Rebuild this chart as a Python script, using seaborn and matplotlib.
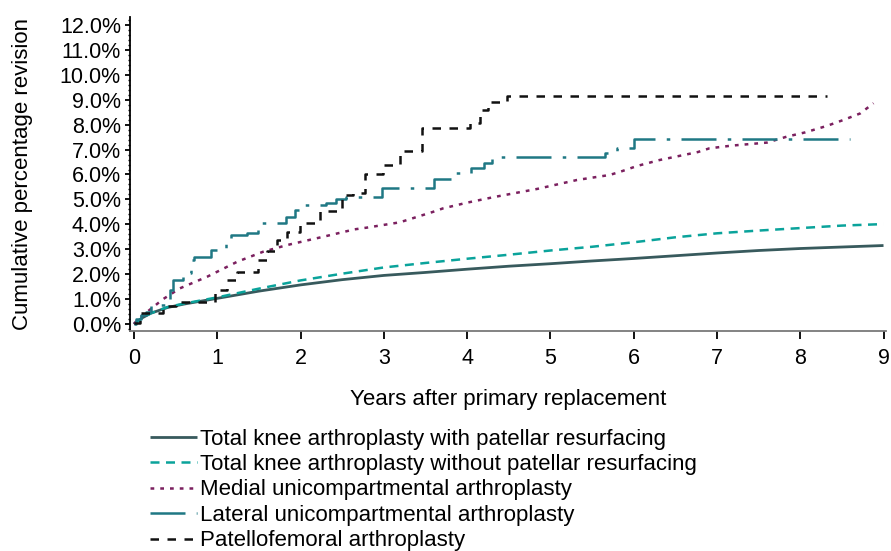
import numpy as np
import pandas as pd
import matplotlib
matplotlib.use("Agg")
import matplotlib.pyplot as plt
from matplotlib.ticker import MultipleLocator, FuncFormatter
import seaborn as sns

# Cumulative percentage revision by years after primary replacement

tka_with_t = [0, 0.1, 0.2, 0.4, 0.6, 1.0, 1.5, 2.0, 2.5, 3.0, 3.5, 4.0, 4.5,
              5.0, 5.5, 6.0, 6.5, 7.0, 7.5, 8.0, 8.5, 9.0]
tka_with_v = [0, 0.25, 0.43, 0.66, 0.8, 1.03, 1.32, 1.57, 1.78, 1.95, 2.07,
              2.2, 2.32, 2.42, 2.53, 2.63, 2.74, 2.85, 2.95, 3.03, 3.09, 3.15]

tka_without_t = [0, 0.1, 0.2, 0.4, 0.6, 1.0, 1.5, 2.0, 2.5, 3.0, 3.5, 4.0, 4.5,
                 5.0, 5.5, 6.0, 6.5, 7.0, 7.5, 8.0, 8.5, 9.0]
tka_without_v = [0, 0.25, 0.43, 0.68, 0.82, 1.07, 1.42, 1.75, 2.02, 2.27, 2.45,
                 2.62, 2.78, 2.95, 3.1, 3.28, 3.48, 3.64, 3.75, 3.85, 3.95, 4.01]

medial_t = [0, 0.05, 0.2, 0.35, 0.55, 0.88, 1.24, 1.55, 1.84, 2.27, 2.65, 2.8,
            3.19, 3.59, 3.71, 4.0, 4.33, 4.84, 5.32, 5.71, 5.83, 6.04, 6.31,
            6.77, 6.91, 7.18, 7.6, 7.84, 8.06, 8.32, 8.52, 8.72, 8.88]
medial_v = [0, 0.2, 0.6, 1.0, 1.43, 1.9, 2.5, 2.9, 3.17, 3.5, 3.8, 3.87,
            4.08, 4.5, 4.64, 4.87, 5.1, 5.42, 5.78, 5.98, 6.1, 6.34, 6.58,
            6.9, 7.05, 7.16, 7.28, 7.52, 7.69, 7.95, 8.19, 8.45, 8.86]

lateral_t = [0, 0.03, 0.08, 0.14, 0.2, 0.43, 0.47, 0.59, 0.69, 0.72, 0.93, 1.1,
             1.17, 1.36, 1.49, 1.82, 1.93, 2.04, 2.3, 2.42, 2.55, 2.98, 3.6,
             3.85, 4.05, 4.2, 4.3, 5.65, 5.8, 6.0, 8.6]
lateral_v = [0, 0.2, 0.36, 0.5, 0.76, 1.36, 1.77, 2.05, 2.57, 2.7, 2.97, 3.3,
             3.57, 3.64, 4.04, 4.3, 4.57, 4.78, 4.84, 5.0, 5.1, 5.44, 5.82,
             6.05, 6.25, 6.45, 6.72, 6.85, 7.05, 7.41, 7.41]

patello_t = [0, 0.07, 0.35, 0.5, 0.97, 1.12, 1.24, 1.49, 1.6, 1.72, 1.84, 1.99,
             2.23, 2.5, 2.63, 2.77, 2.99, 3.2, 3.46, 4.03, 4.15, 4.25, 4.48, 8.32]
patello_v = [0.05, 0.43, 0.72, 0.9, 1.36, 1.77, 2.1, 2.57, 2.93, 3.37, 3.7, 4.05,
             4.55, 5.18, 5.25, 6.0, 6.38, 6.95, 7.85, 8.05, 8.6, 8.9, 9.15, 9.15]

labels = [
    "Total knee arthroplasty with patellar resurfacing",
    "Total knee arthroplasty without patellar resurfacing",
    "Medial unicompartmental arthroplasty",
    "Lateral unicompartmental arthroplasty",
    "Patellofemoral arthroplasty",
]

sns.set_theme(style="white")
plt.rcParams["font.family"] = ["Liberation Sans", "DejaVu Sans"]
FS_TICK = 15.5
FS_LABEL = 16.0
FS_LEG = 16.0

fig = plt.figure(figsize=(8.91, 5.51), dpi=100)
ax = fig.add_axes([130 / 891, 1 - 331 / 551, 756 / 891, 314 / 551])

series = [
    (tka_with_t, tka_with_v, "#385a5d", (0, ()), 2.0, None),
    (tka_without_t, tka_without_v, "#0aa39b", (0, (3.6, 2.6)), 1.8, None),
    (medial_t, medial_v, "#7b205f", (0, (1.5, 2.4)), 1.8, None),
    (lateral_t, lateral_v, "#1f7884", (0, (14, 4.5, 1.4, 4.5)), 1.8, "steps-post"),
    (patello_t, patello_v, "#111111", (0, (3.4, 3.4)), 1.8, "steps-post"),
]

for (t, v, color, ls, lw, ds), lab in zip(series, labels):
    df = pd.DataFrame({"t": t, "v": v})
    if ds:
        # expand step function into explicit corners
        tt = np.repeat(df["t"].values, 2)[1:]
        vv = np.repeat(df["v"].values, 2)[:-1]
        df = pd.DataFrame({"t": tt, "v": vv})
    sns.lineplot(data=df, x="t", y="v", ax=ax, color=color, linewidth=lw,
                 sort=False, estimator=None, legend=False)
    ax.lines[-1].set_linestyle(ls)
    ax.lines[-1].set_label(lab)

ax.set_xlim(-0.048, 9.03)
ax.set_ylim(-0.28, 12.32)
ax.set_xticks(range(0, 10))
ax.yaxis.set_major_locator(MultipleLocator(1))
ax.yaxis.set_minor_locator(MultipleLocator(0.2))
ax.yaxis.set_major_formatter(FuncFormatter(lambda y, _: f"{y:.1f}%"))

for side in ["top", "right"]:
    ax.spines[side].set_visible(False)
ax.spines["left"].set_color("black")
ax.spines["left"].set_linewidth(1.3)
ax.spines["bottom"].set_color("#7a7a7a")
ax.spines["bottom"].set_linewidth(1.3)

ax.tick_params(axis="x", which="major", direction="out", length=6, width=1.3,
               color="black", labelsize=FS_TICK, pad=6, bottom=True)
ax.tick_params(axis="y", which="major", direction="out", length=3.5, width=1.3,
               color="black", labelsize=FS_TICK, pad=3, left=True)
ax.tick_params(axis="y", which="minor", direction="out", length=1.8, width=1.0,
               color="black", left=True)
for lbl in ax.get_xticklabels() + ax.get_yticklabels():
    lbl.set_color("black")

ax.set_xlabel("Years after primary replacement", fontsize=FS_LABEL, color="black",
              labelpad=15)
ax.set_ylabel("Cumulative percentage revision", fontsize=FS_LABEL, color="black",
              labelpad=19)
ax.grid(False)

handles = ax.lines[:5]
fig.legend(handles, labels, loc="upper left",
           bbox_to_anchor=(150 / 891, 1 - 428.5 / 551),
           frameon=False, fontsize=FS_LEG, handlelength=2.1, handletextpad=0.16,
           labelspacing=0.2, borderaxespad=0, borderpad=0, labelcolor="black")

fig.savefig("out.png", dpi=100, facecolor="white")
